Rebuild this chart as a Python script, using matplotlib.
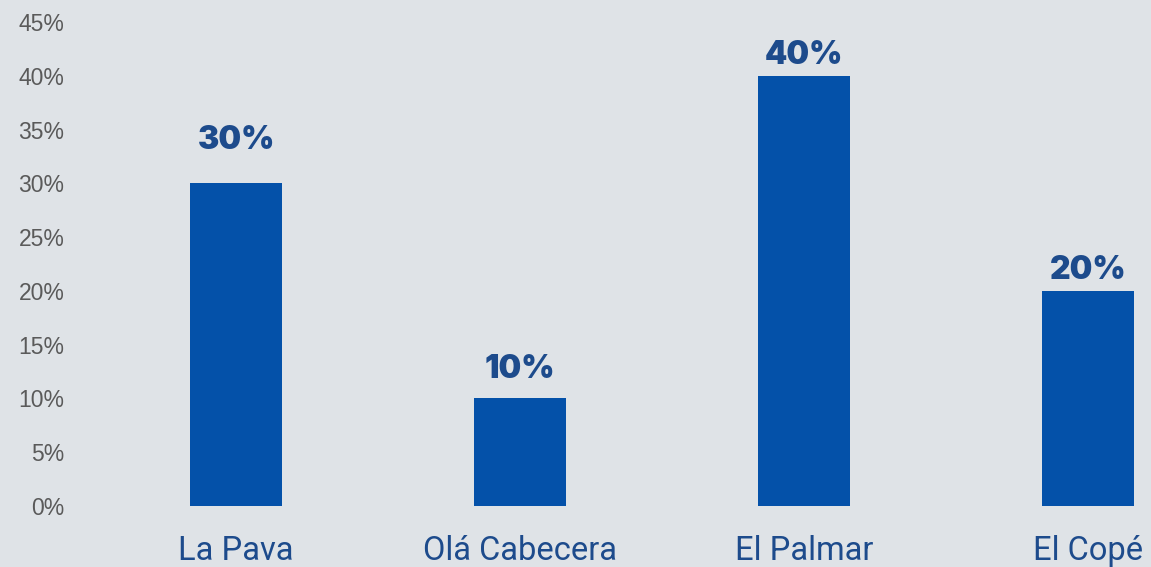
import matplotlib
matplotlib.use("Agg")
import matplotlib.pyplot as plt
from matplotlib.ticker import FuncFormatter, MultipleLocator
from matplotlib import font_manager

categories = ["La Pava", "Olá Cabecera", "El Palmar", "El Copé"]
values = [30, 10, 40, 20]
label_offsets = [24.5, 15, 8.6, 8.6]  # points from bar top to value label baseline

BG = "#dfe3e7"
BAR = "#0451a9"
TXT = "#1d4b8c"

heavy = [f for f in font_manager.fontManager.ttflist
         if f.name in ("Lato", "Roboto", "Inter") and f.weight in (800, 900, "black", "heavy")]
heavy_family = heavy[0].name if heavy else "Roboto"

fig = plt.figure(figsize=(11.51, 5.67), dpi=100, facecolor=BG)
ax = fig.add_axes([70 / 1151, (567 - 506) / 567, (1151 - 70) / 1151, (506 - 22) / 567])
ax.set_facecolor(BG)

x = list(range(len(categories)))
bars = ax.bar(x, values, width=0.324, color=BAR)

ax.set_xlim(-0.585, 3.222)
ax.set_ylim(0, 45)
ax.yaxis.set_major_locator(MultipleLocator(5))
ax.yaxis.set_major_formatter(FuncFormatter(lambda v, p: f"{int(round(v))}%"))
ax.set_xticks(x)
ax.set_xticklabels(categories, fontsize=23.5, color=TXT, family=["Roboto", "DejaVu Sans"])
for lab in ax.get_yticklabels():
    lab.set_fontsize(16.5)
    lab.set_color("#5a5a5a")
    lab.set_family(["Liberation Sans", "DejaVu Sans"])
ax.tick_params(axis="both", length=0)
ax.tick_params(axis="y", pad=4)
ax.tick_params(axis="x", pad=21)
for s in ax.spines.values():
    s.set_visible(False)

for b, v, off in zip(bars, values, label_offsets):
    ax.annotate(f"{v}%", (b.get_x() + b.get_width() / 2, v), xytext=(0, off),
                textcoords="offset points", ha="center", va="baseline",
                fontsize=23, fontweight="black", color=TXT,
                family=[heavy_family, "DejaVu Sans"])

fig.savefig("out.png", dpi=100, facecolor=BG)
